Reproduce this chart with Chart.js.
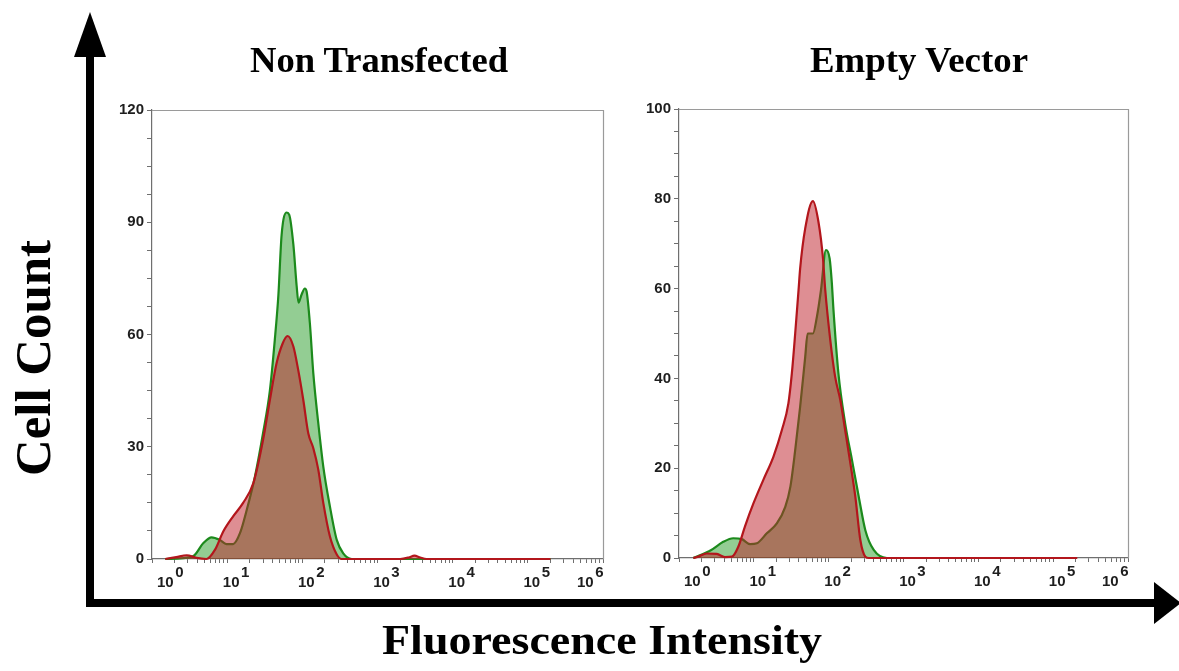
<!DOCTYPE html>
<html>
<head>
<meta charset="utf-8">
<script src="https://cdn.jsdelivr.net/npm/chart.js@4/dist/chart.umd.min.js"></script>
<style>
  html, body { margin:0; padding:0; background:#fff; }
  #wrap { position:relative; width:1179px; height:671px; overflow:hidden; background:#fff; }
  canvas { position:absolute; }
  .lbl { position:absolute; white-space:nowrap; font-family:"Liberation Serif","Times New Roman",serif; font-weight:bold; color:#000; line-height:1; }
</style>
</head>
<body>
<div id="wrap">
  <canvas id="c1" width="520" height="520" style="left:100px;top:90px;width:520px;height:520px;"></canvas>
  <canvas id="c2" width="520" height="520" style="left:630px;top:90px;width:520px;height:520px;"></canvas>
  <svg width="1179" height="671" style="position:absolute;left:0;top:0;">
    <rect x="86" y="50" width="8" height="557" fill="#000"/>
    <polygon points="90,12 74,57 106,57" fill="#000"/>
    <rect x="86" y="599" width="1070" height="8" fill="#000"/>
    <polygon points="1154,582 1154,624 1181,603" fill="#000"/>
  </svg>
  <div id="t1" class="lbl"></div>
  <div id="t2" class="lbl"></div>
  <div id="ty" class="lbl"></div>
  <div id="tx" class="lbl"></div>
</div>
<script>
// ---------- data ----------
const panelTitles = ["Non Transfected", "Empty Vector"];
const yAxisTitle = "Cell Count";
const xAxisTitle = "Fluorescence Intensity";
const xTickExponents = [0, 1, 2, 3, 4, 5, 6];
const yLabelsLeft = [0, 30, 60, 90, 120];
const yLabelsRight = [0, 20, 40, 60, 80, 100];
const seriesNames = ["Control", "Stained"];

// Non Transfected panel
const ntGreenX = [1.5, 3.5, 4.8, 6.2, 8, 9.8, 12, 14.8, 18.2, 23.4, 30, 37, 43, 48, 53, 62, 67, 76, 84, 89, 97, 108, 114, 126, 140, 163, 190, 233, 287, 350, 455, 1000, 5000, 20000, 200000];
const ntGreenY = [0, 0.7, 4.2, 5.8, 5.1, 4.0, 4.0, 6.9, 13.1, 22, 33.6, 45, 58.5, 70.5, 86.6, 92.6, 92, 84, 73, 68.5, 70.5, 72.3, 71.5, 63, 49.6, 36.3, 24.7, 14, 5.1, 1.5, 0, 0, 0, 0, 0];
const ntRedX = [1.5, 2.1, 2.9, 3.9, 5.3, 6.9, 8.9, 12, 16.3, 22.3, 30, 37, 45.4, 54.7, 63.6, 76, 88, 103, 120, 140, 163, 190, 233, 287, 333, 600, 2000, 2600, 3100, 3700, 4500, 20000, 200000];
const ntRedY = [0, 0.5, 1.0, 0.3, 0, 2.5, 7.4, 11.4, 15, 20.3, 31.8, 42.5, 52.3, 57.6, 59.6, 56.8, 50.6, 42.5, 33.6, 29.6, 23.9, 15, 6, 1.2, 0, 0, 0, 0.4, 0.9, 0.4, 0, 0, 0];

// Empty Vector panel
const evGreenX = [1.55, 2.7, 3.9, 5.3, 6.9, 8.9, 11, 14.9, 20.3, 26.3, 30.8, 35.7, 41.6, 48.6, 52.3, 61.6, 69.6, 79, 92, 103, 110, 116, 135, 166, 205, 252, 309, 400, 600, 2000, 20000, 200000];
const evGreenY = [0, 1.8, 3.6, 4.4, 4.2, 3.1, 3.3, 5.5, 7.7, 11.4, 15.9, 24, 33.7, 44.8, 50, 50, 53.7, 59.7, 68.6, 66.7, 61.5, 55.2, 41.1, 30, 21.8, 13.7, 6.2, 1.8, 0, 0, 0, 0];
const evRedX = [1.55, 1.8, 2.35, 3.2, 4.1, 5.1, 6.2, 7.6, 9.9, 13.4, 18.3, 23.7, 29, 32.2, 35.7, 39.6, 41.6, 48.6, 61.6, 73, 84, 90, 105, 122, 143, 166, 195, 227, 265, 309, 345, 1000, 10000, 210000];
const evRedY = [0, 0.3, 1.0, 0.9, 0.2, 0.3, 2.5, 7, 12.2, 17.4, 22.6, 28.5, 34.5, 41.1, 50, 59.7, 64.5, 73.4, 79.5, 74.9, 66.7, 59.7, 48.6, 40.4, 35.2, 28.5, 21.1, 13.7, 4, 0.3, 0, 0, 0, 0];

// ---------- helpers ----------
const zip = (xs, ys) => xs.map((x, i) => ({ x: x, y: ys[i] }));
const GREEN_LINE = '#1c8a1c', GREEN_FILL = 'rgba(30,150,30,0.48)';
const RED_LINE = '#b3161c', RED_FILL = 'rgba(190,30,40,0.5)';
const TICK_FONT = { family: '"Liberation Sans", Arial, sans-serif', size: 15, weight: 'bold' };

function ds(label, xs, ys, line, fill) {
  return {
    label: label, data: zip(xs, ys), borderColor: line, backgroundColor: fill,
    borderWidth: 2.2, fill: 'origin', pointRadius: 0, cubicInterpolationMode: 'monotone', clip: false
  };
}

const framePlugin = {
  id: 'frame',
  beforeDatasetsDraw(chart) {
    const a = chart.chartArea, ctx = chart.ctx;
    ctx.save();
    ctx.strokeStyle = '#9a9a9a'; ctx.lineWidth = 1.2;
    ctx.beginPath();
    ctx.moveTo(a.left, Math.round(a.top) + 0.5);
    ctx.lineTo(Math.round(a.right) + 0.5, Math.round(a.top) + 0.5);
    ctx.lineTo(Math.round(a.right) + 0.5, a.bottom);
    ctx.stroke();
    ctx.restore();
  }
};

const xLabelPlugin = {
  id: 'xPowLabels',
  afterDraw(chart) {
    const sc = chart.scales.x, ctx = chart.ctx;
    ctx.save();
    ctx.font = 'bold 15px "Liberation Sans", Arial, sans-serif';
    ctx.fillStyle = '#1e1e1e';
    ctx.textBaseline = 'alphabetic';
    ctx.textAlign = 'left';
    const n = xTickExponents.length;
    xTickExponents.forEach((e, i) => {
      const px = sc.getPixelForValue(Math.pow(10, e));
      const base = '10', sup = String(e);
      const wb = ctx.measureText(base).width, ws = ctx.measureText(sup).width;
      let left;
      if (i === 0) left = px + 5;
      else if (i === n - 1) left = px - wb - ws - 1;
      else left = px + 4 - wb / 2;
      const y = sc.top + 28;
      ctx.fillText(base, left, y);
      ctx.fillText(sup, left + wb + 1.5, y - 10);
    });
    ctx.restore();
  }
};

function keepIntegerMantissa(scale) {
  scale.ticks = scale.ticks.filter(t => {
    const e = Math.floor(Math.log10(t.value) + 1e-9);
    const m = t.value / Math.pow(10, e);
    return Math.abs(m - Math.round(m)) < 1e-6;
  });
}

function makeChart(id, datasets, yMax, yStep, yLabels, yWidth, pad) {
  return new Chart(document.getElementById(id), {
    type: 'line',
    data: { datasets: datasets },
    options: {
      responsive: false, animation: false, devicePixelRatio: 1,
      layout: { padding: pad },
      plugins: { legend: { display: false }, tooltip: { enabled: false }, title: { display: false } },
      scales: {
        x: {
          type: 'logarithmic', min: 1, max: 1e6,
          afterBuildTicks: keepIntegerMantissa,
          afterFit: s => { s.height = 40; },
          grid: { display: true, drawOnChartArea: false, drawTicks: true, tickLength: 4, color: '#6f6f6f', lineWidth: 1 },
          border: { display: true, color: '#6f6f6f', width: 1.2 },
          ticks: { display: false, autoSkip: false }
        },
        y: {
          type: 'linear', min: 0, max: yMax,
          afterFit: s => { s.width = yWidth; },
          grid: { display: true, drawOnChartArea: false, drawTicks: true, tickLength: 5, color: '#6f6f6f', lineWidth: 1 },
          border: { display: true, color: '#6f6f6f', width: 1.2 },
          ticks: {
            stepSize: yStep, autoSkip: false, padding: 3, color: '#1e1e1e', font: TICK_FONT,
            callback: v => yLabels.some(l => Math.abs(l - v) < 1e-6) ? String(Math.round(v)) : ''
          }
        }
      }
    },
    plugins: [framePlugin, xLabelPlugin]
  });
}

makeChart('c1', [
  ds(seriesNames[1], ntRedX, ntRedY, RED_LINE, RED_FILL),
  ds(seriesNames[0], ntGreenX, ntGreenY, GREEN_LINE, GREEN_FILL)
], 120, 7.5, yLabelsLeft, 52, { left: 0, right: 17, top: 20, bottom: 11 });

makeChart('c2', [
  ds(seriesNames[1], evRedX, evRedY, RED_LINE, RED_FILL),
  ds(seriesNames[0], evGreenX, evGreenY, GREEN_LINE, GREEN_FILL)
], 100, 5, yLabelsRight, 49, { left: 0, right: 22, top: 19, bottom: 12 });

// ---------- text labels ----------
function placeText(id, text, size, cx, baseline, targetWidth, rotate) {
  const el = document.getElementById(id);
  el.textContent = text;
  el.style.fontSize = size + 'px';
  const w = el.getBoundingClientRect().width;
  const s = targetWidth ? targetWidth / w : 1;
  if (!rotate) {
    el.style.left = cx + 'px';
    el.style.top = (baseline - 0.8375 * size) + 'px';
    el.style.transformOrigin = '0 0';
    el.style.transform = 'scaleX(' + s + ') translateX(-50%)';
  } else {
    el.style.left = cx + 'px';
    el.style.top = baseline + 'px';
    el.style.transform = 'translate(-50%,-50%) rotate(-90deg) scaleX(' + s + ')';
  }
}
placeText('t1', panelTitles[0], 36, 379, 72, 258);
placeText('t2', panelTitles[1], 36, 919, 72, 218);
placeText('tx', xAxisTitle, 42, 602, 654, 440);
placeText('ty', yAxisTitle, 50, 33, 358, 236, true);
</script>
</body>
</html>
